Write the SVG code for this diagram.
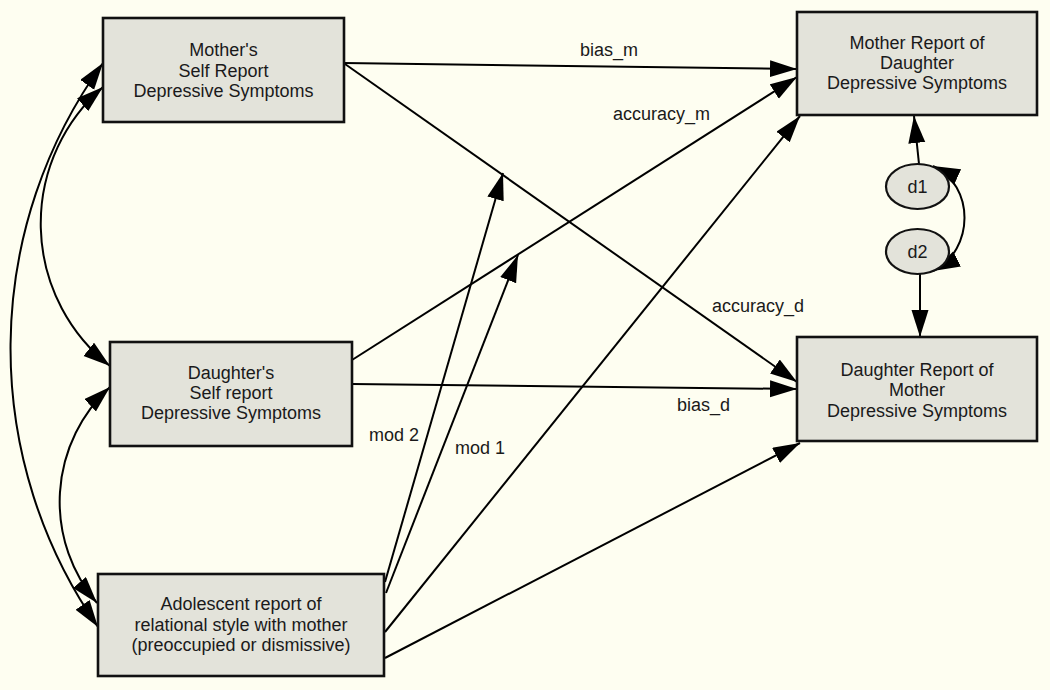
<svg xmlns="http://www.w3.org/2000/svg" width="1050" height="690" viewBox="0 0 1050 690">
<defs>
<style>
.box{fill:#E3E3DA;stroke:#111;stroke-width:2.6}
.ell{fill:#E3E3DA;stroke:#111;stroke-width:2.2}
.t{font-family:"Liberation Sans",Arial,sans-serif;font-size:18px;fill:#1a1a1a;text-anchor:middle}
.lbl{font-family:"Liberation Sans",Arial,sans-serif;font-size:18px;fill:#1a1a1a}
.c{fill:none;stroke:#000;stroke-width:2;marker-end:url(#ah)}
.cc{fill:none;stroke:#000;stroke-width:2;marker-start:url(#ah);marker-end:url(#ah)}
</style>
<marker id="ah" markerUnits="userSpaceOnUse" markerWidth="28" markerHeight="18" refX="27" refY="8.5" orient="auto-start-reverse" viewBox="0 0 28 18">
<path d="M0,0 L27,8.5 L0,17 z" fill="#000"/>
</marker>
</defs>
<rect width="1050" height="690" fill="#FEFEF1"/>
<g id="connectors">
<line class="c" x1="344" y1="63" x2="797" y2="69"/>
<line class="c" x1="345" y1="64" x2="797" y2="382"/>
<line class="c" x1="352" y1="360" x2="797" y2="77"/>
<line class="c" x1="352" y1="384" x2="797" y2="389"/>
<line class="c" x1="385" y1="582" x2="503" y2="173"/>
<line class="c" x1="386" y1="593" x2="518" y2="255"/>
<line class="c" x1="385" y1="632" x2="800" y2="116"/>
<line class="c" x1="385" y1="658" x2="800" y2="443"/>
<line class="c" x1="919" y1="164" x2="914" y2="116"/>
<line class="c" x1="920" y1="274" x2="920" y2="337"/>
<path class="cc" d="M933,166 C975,185 975,250 933,271"/>
<path class="cc" d="M103,63 A487,487 0 0 0 98,627"/>
<path class="cc" d="M103,87 A181,181 0 0 0 110,366"/>
<path class="cc" d="M110,387 A156,156 0 0 0 97,603"/>
<text class="lbl" x="580" y="56">bias_m</text>
<text class="lbl" x="613" y="120">accuracy_m</text>
<text class="lbl" x="712" y="312">accuracy_d</text>
<text class="lbl" x="677" y="411">bias_d</text>
<text class="lbl" x="369" y="441">mod 2</text>
<text class="lbl" x="455" y="454">mod 1</text>
</g>
<g id="mother_self">
<rect class="box" x="103" y="18" width="241" height="104"/>
<text class="t" x="223.5" y="56">Mother's</text>
<text class="t" x="223.5" y="77">Self Report</text>
<text class="t" x="223.5" y="97">Depressive Symptoms</text>
</g>
<g id="mother_report">
<rect class="box" x="797" y="12" width="240" height="103"/>
<text class="t" x="917" y="49">Mother Report of</text>
<text class="t" x="917" y="69">Daughter</text>
<text class="t" x="917" y="89">Depressive Symptoms</text>
</g>
<g id="daughter_self">
<rect class="box" x="110" y="342" width="242" height="104"/>
<text class="t" x="231" y="379">Daughter's</text>
<text class="t" x="231" y="399">Self report</text>
<text class="t" x="231" y="419">Depressive Symptoms</text>
</g>
<g id="daughter_report">
<rect class="box" x="797" y="337" width="240" height="104"/>
<text class="t" x="917" y="376">Daughter Report of</text>
<text class="t" x="917" y="396">Mother</text>
<text class="t" x="917" y="417">Depressive Symptoms</text>
</g>
<g id="adolescent">
<rect class="box" x="98" y="574" width="286" height="102"/>
<text class="t" x="241" y="610">Adolescent report of</text>
<text class="t" x="241" y="631">relational style with mother</text>
<text class="t" x="241" y="651">(preoccupied or dismissive)</text>
</g>
<g id="d1">
<ellipse class="ell" cx="917.5" cy="186.5" rx="31.5" ry="22.5"/>
<text class="t" x="917.5" y="193">d1</text>
</g>
<g id="d2">
<ellipse class="ell" cx="917.5" cy="251.5" rx="31.5" ry="22.5"/>
<text class="t" x="917.5" y="258">d2</text>
</g>
</svg>
